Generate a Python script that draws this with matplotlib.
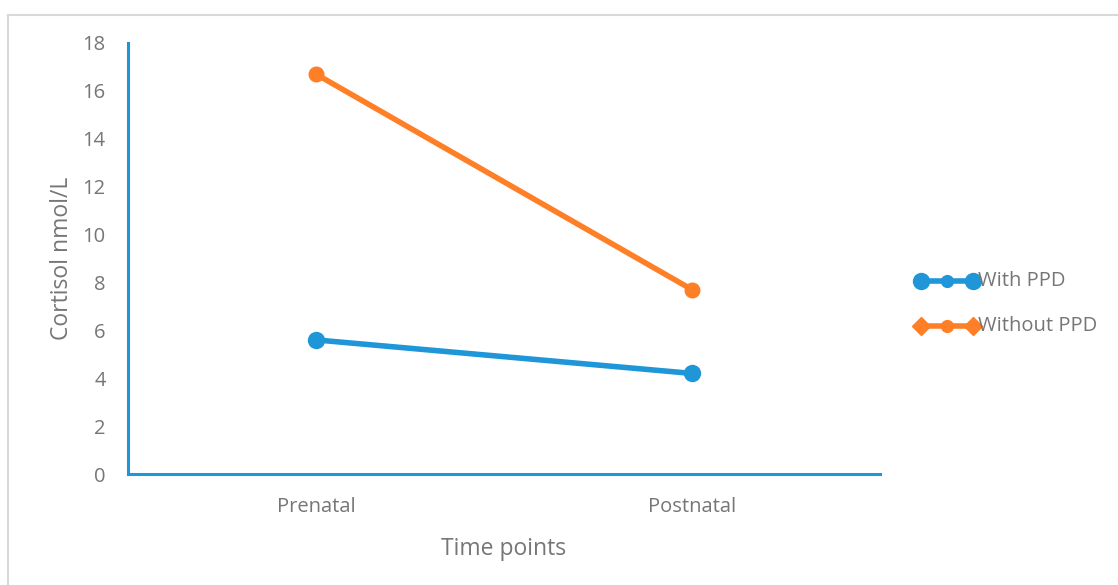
import matplotlib
matplotlib.use("Agg")
import matplotlib.pyplot as plt
from matplotlib.lines import Line2D

categories = ["Prenatal", "Postnatal"]
with_ppd = [5.6, 4.2]
without_ppd = [16.7, 7.7]
series_names = ["With PPD", "Without PPD"]
yticks = [0, 2, 4, 6, 8, 10, 12, 14, 16, 18]

BLUE = "#1F96D8"
ORANGE = "#FF7F27"
GRAY = "#767676"

plt.rcParams['font.family'] = ['Open Sans', 'DejaVu Sans']

W, H = 1118, 585
fig = plt.figure(figsize=(W / 100, H / 100), dpi=100)
ax = fig.add_axes([128 / W, 1 - 474 / H, (880 - 128) / W, (474 - 43) / H])

x = list(range(len(categories)))
ax.plot(x, with_ppd, color=BLUE, lw=4.0, marker='o', ms=11.5, solid_capstyle='round', zorder=3)
ax.plot(x, without_ppd, color=ORANGE, lw=4.0, marker='o', ms=10.5, solid_capstyle='round', zorder=3)

ax.set_xlim(-0.5, 1.5)
ax.set_ylim(0, 18)
ax.set_yticks(yticks)
ax.set_xticks(x)
ax.set_xticklabels(categories)
ax.tick_params(axis='both', length=0, labelsize=14.5, labelcolor=GRAY)
ax.tick_params(axis='y', pad=16)
ax.tick_params(axis='x', pad=16.2)

for s in ['top', 'right']:
    ax.spines[s].set_visible(False)
for s in ['left', 'bottom']:
    ax.spines[s].set_color(BLUE)
    ax.spines[s].set_linewidth(2.2)

ax.set_ylabel("Cortisol nmol/L", fontsize=16.5, color=GRAY, labelpad=6.2)
ax.set_xlabel("Time points", fontsize=16.5, color=GRAY, labelpad=14.5)

# Legend drawn manually
def fx(px):
    return px / W

def fy(py):
    return 1 - py / H

leg_items = [(281, BLUE, 'o', series_names[0]), (326, ORANGE, 'D', series_names[1])]
for py, col, outer, name in leg_items:
    fig.add_artist(Line2D([fx(921), fx(973)], [fy(py), fy(py)], color=col, lw=4.0,
                          transform=fig.transFigure))
    for px, m, ms in [(921, outer, 11.5 if outer == 'o' else 9.5), (947, 'o', 8.5), (973, outer, 11.5 if outer == 'o' else 9.5)]:
        fig.add_artist(Line2D([fx(px)], [fy(py)], color=col, marker=m, ms=ms, lw=0,
                              transform=fig.transFigure))
    fig.text(fx(978), fy(py), name, fontsize=14.5, color=GRAY, va='center', ha='left')

# Frame
fig.add_artist(Line2D([fx(8), fx(8)], [fy(15), 0], color="#D9D9D9", lw=1.5, transform=fig.transFigure))
fig.add_artist(Line2D([fx(8), 1], [fy(15), fy(15)], color="#D9D9D9", lw=1.5, transform=fig.transFigure))

fig.savefig("out.png", dpi=100)
